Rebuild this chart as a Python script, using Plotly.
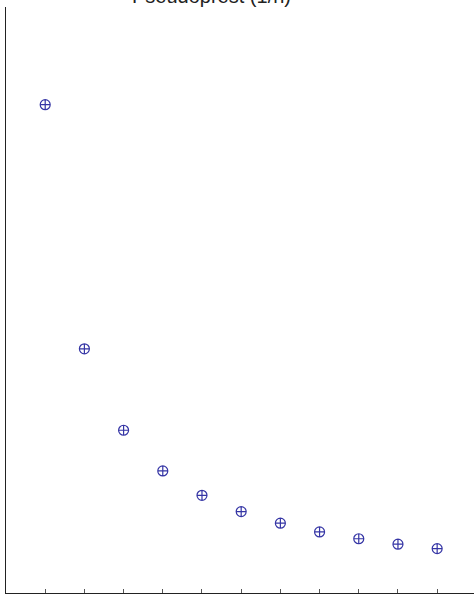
import plotly.graph_objects as go

n_values = [1, 2, 3, 4, 5, 6, 7, 8, 9, 10, 11]
pseudo_values = [1.0, 0.5, 0.3333, 0.25, 0.2, 0.1667, 0.1429, 0.125, 0.1111, 0.1, 0.0909]
tick_positions = [1, 2, 3, 4, 5, 6, 7, 8, 9, 10, 11]
title_text = "Pseudoprest (1/n)"

fig = go.Figure()
fig.add_trace(go.Scatter(
    x=n_values, y=pseudo_values, mode="markers",
    marker=dict(symbol="circle-cross-open", size=10, color="#3535a5", line=dict(width=1.2)),
    hoverinfo="x+y", showlegend=False,
))

fig.update_layout(
    width=474, height=594,
    margin=dict(l=6, r=0, t=7, b=1),
    paper_bgcolor="white", plot_bgcolor="white",
    font=dict(family="Liberation Sans, Arial, sans-serif", color="#222"),
    xaxis=dict(range=[0, 11.94], showgrid=False, zeroline=False,
               showline=True, linecolor="#222", linewidth=1.3,
               tickmode="array", tickvals=tick_positions, showticklabels=False,
               ticks="inside", ticklen=4, tickcolor="#555", tickwidth=1),
    yaxis=dict(range=[0, 1.2], showgrid=False, zeroline=False,
               showline=True, linecolor="#222", linewidth=1.3,
               showticklabels=False, ticks=""),
    annotations=[dict(text=title_text, x=0.44, y=0.996, xref="paper", yref="paper",
                      xanchor="center", yanchor="bottom", showarrow=False,
                      font=dict(size=20, color="#222"))],
)

fig.write_html("out.html", config={"displayModeBar": False},
               post_script="document.body.style.margin='0';document.body.style.overflow='hidden';")
